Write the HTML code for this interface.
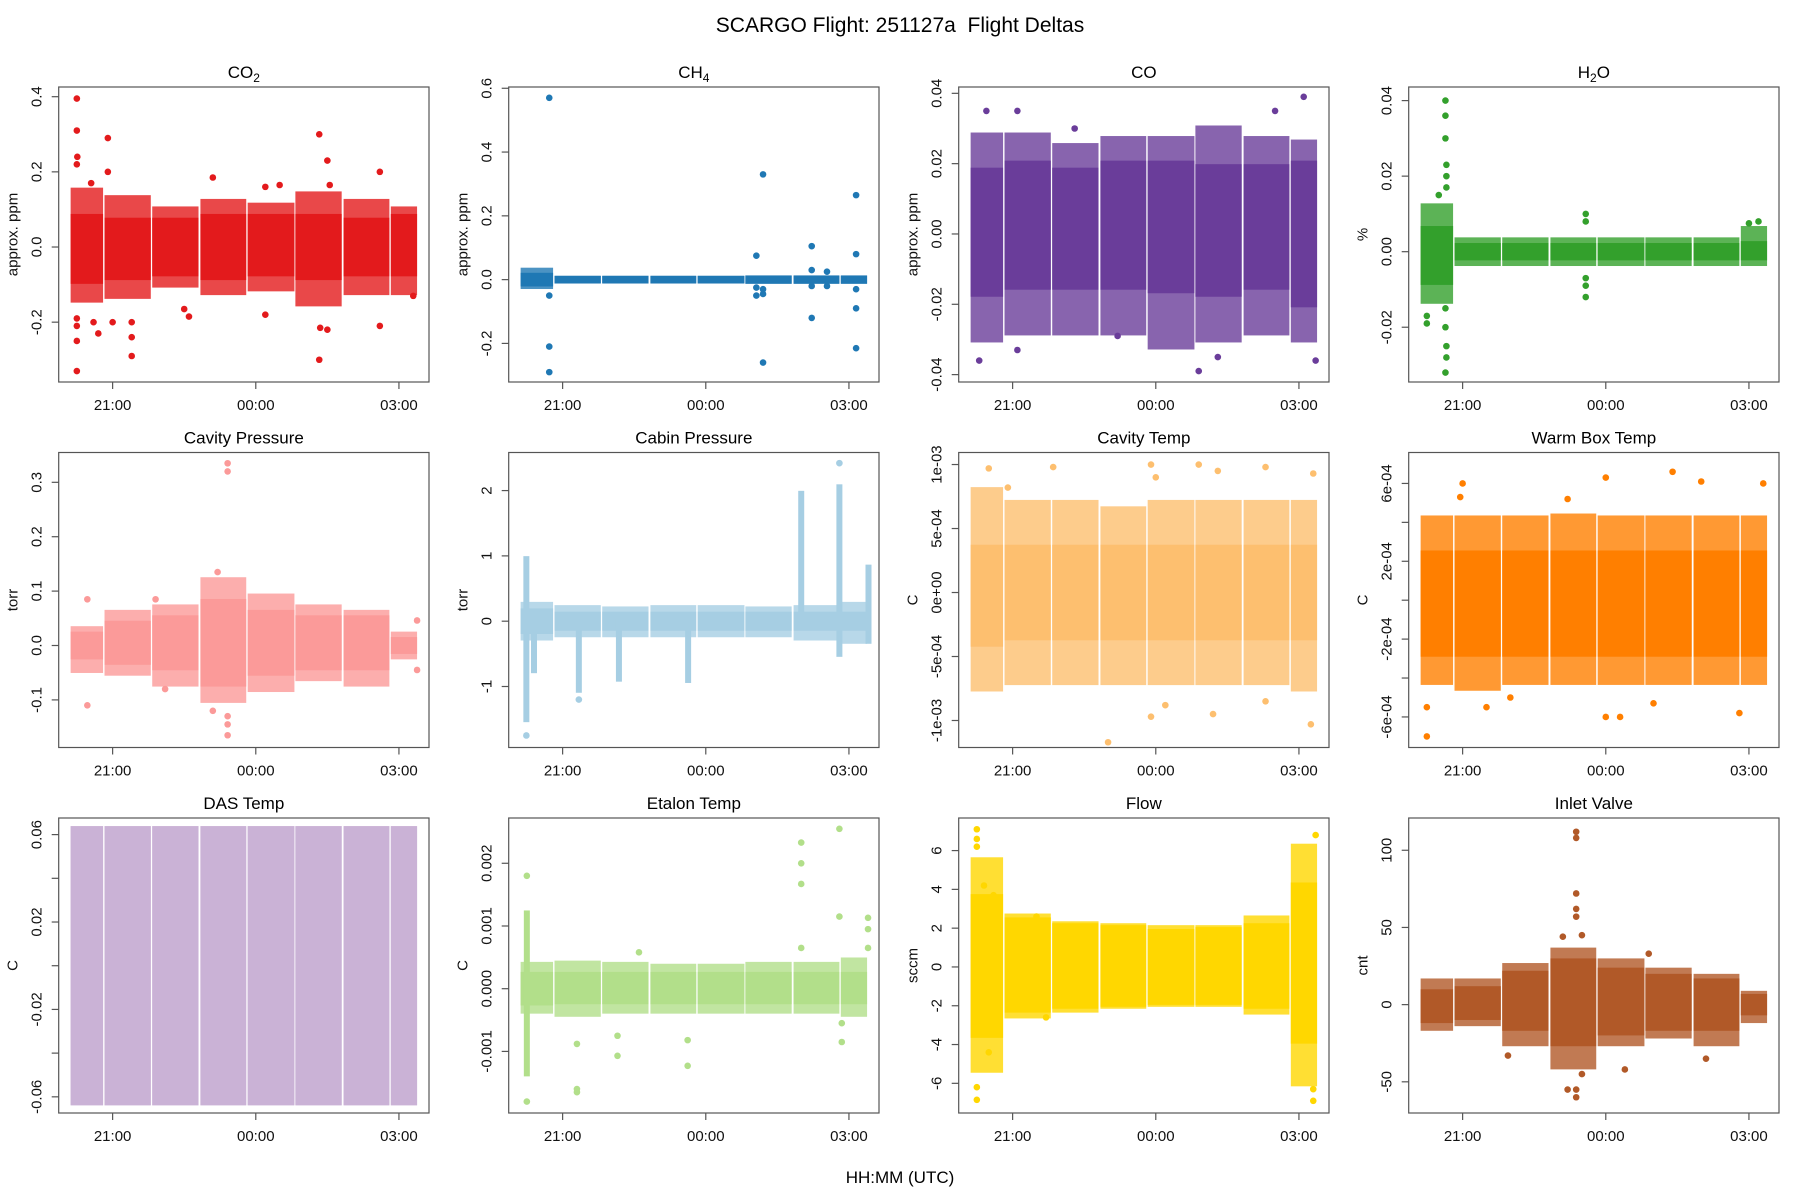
<!DOCTYPE html>
<html><head><meta charset="utf-8"><title>SCARGO Flight Deltas</title>
<style>
html,body{margin:0;padding:0;background:#fff;}
svg{display:block;font-family:"Liberation Sans",Arial,sans-serif;}
</style></head>
<body>
<svg id="chart" width="1800" height="1200" viewBox="0 0 1800 1200" xmlns="http://www.w3.org/2000/svg">
<rect width="1800" height="1200" fill="#fff"/>
<text x="900" y="32" font-size="21" text-anchor="middle" fill="#000">SCARGO Flight: 251127a&#160; Flight Deltas</text>
<text x="900" y="1183" font-size="17" text-anchor="middle" fill="#000">HH:MM (UTC)</text>
</svg>
<script>
// ---- shared time data (hours, 24+ = after midnight) ----
const segStart = [20.12, 20.83, 21.83, 22.84, 23.83, 24.83, 25.84, 26.83];
const segEnd   = [20.80, 21.80, 22.80, 23.80, 24.81, 25.80, 26.80, 27.38];
const xTickVals = [21, 24, 27];
const xTickLabels = ["21:00", "00:00", "03:00"];

// ---- CO2 ----
const co2Core  = [[-0.09,0.08],[-0.08,0.07],[-0.07,0.07],[-0.08,0.08],[-0.07,0.08],[-0.08,0.08],[-0.07,0.07],[-0.07,0.08]];
const co2Outer = [[-0.14,0.15],[-0.13,0.13],[-0.10,0.10],[-0.12,0.12],[-0.11,0.11],[-0.15,0.14],[-0.12,0.12],[-0.12,0.10]];
const co2Pts = [[20.25,0.395],[20.25,0.31],[20.26,0.24],[20.25,0.22],[20.25,-0.19],[20.25,-0.21],[20.25,-0.25],[20.25,-0.33],[20.9,0.29],[20.9,0.2],[21.0,-0.2],[21.4,-0.2],[21.4,-0.24],[21.4,-0.29],[20.55,0.17],[20.6,-0.2],[20.7,-0.23],[22.6,-0.185],[22.5,-0.165],[23.1,0.185],[24.2,0.16],[24.5,0.165],[24.2,-0.18],[25.33,0.3],[25.33,-0.3],[25.35,-0.215],[25.5,0.23],[25.5,-0.22],[25.55,0.165],[26.6,0.2],[26.6,-0.21],[27.3,-0.13]];
const co2Ticks = [0.4,0.2,0,-0.2];
const co2TickLabels = ["0.4","0.2","0.0","-0.2"];

// ---- CH4 ----
const ch4Core  = [[-0.012,0.012],[-0.002,0.002],[-0.002,0.002],[-0.002,0.002],[-0.002,0.002],[-0.003,0.003],[-0.003,0.003],[-0.003,0.003]];
const ch4Outer = [[-0.02,0.028],[-0.003,0.003],[-0.003,0.003],[-0.003,0.003],[-0.003,0.003],[-0.004,0.004],[-0.004,0.004],[-0.004,0.004]];
const ch4Pts = [[20.72,0.57],[20.72,-0.05],[20.72,-0.21],[20.72,-0.29],[25.2,0.33],[25.2,-0.26],[25.2,-0.03],[25.2,-0.045],[25.06,0.075],[25.06,-0.05],[25.06,-0.025],[26.22,0.105],[26.22,0.03],[26.22,-0.12],[26.22,-0.02],[26.54,0.025],[26.54,-0.02],[27.15,0.265],[27.15,0.08],[27.15,-0.09],[27.15,-0.215],[27.15,-0.03]];
const ch4Ticks = [0.6,0.4,0.2,0,-0.2];
const ch4TickLabels = ["0.6","0.4","0.2","0.0","-0.2"];

// ---- CO ----
const coCore  = [[-0.017,0.018],[-0.015,0.02],[-0.015,0.018],[-0.015,0.02],[-0.016,0.02],[-0.017,0.019],[-0.015,0.019],[-0.02,0.02]];
const coOuter = [[-0.03,0.028],[-0.028,0.028],[-0.028,0.025],[-0.028,0.027],[-0.032,0.027],[-0.03,0.03],[-0.028,0.027],[-0.03,0.026]];
const coPts = [[20.3,-0.036],[20.45,0.035],[21.1,0.035],[21.1,-0.033],[24.9,-0.039],[27.1,0.039],[27.35,-0.036],[26.5,0.035],[25.3,-0.035],[22.3,0.03],[23.2,-0.029]];
const coTicks = [0.04,0.02,0,-0.02,-0.04];
const coTickLabels = ["0.04","0.02","0.00","-0.02","-0.04"];

// ---- H2O ----
const h2oCore  = [[-0.008,0.006],[-0.0015,0.0015],[-0.0015,0.0015],[-0.0015,0.0015],[-0.0015,0.0015],[-0.0015,0.0015],[-0.0015,0.0015],[-0.0015,0.002]];
const h2oOuter = [[-0.013,0.012],[-0.003,0.003],[-0.003,0.003],[-0.003,0.003],[-0.003,0.003],[-0.003,0.003],[-0.003,0.003],[-0.003,0.006]];
const h2oPts = [[20.64,0.04],[20.64,0.036],[20.64,0.03],[20.66,0.023],[20.66,0.02],[20.66,0.017],[20.64,-0.015],[20.64,-0.02],[20.66,-0.025],[20.66,-0.028],[20.64,-0.032],[20.25,-0.019],[20.25,-0.017],[20.5,0.015],[23.58,0.01],[23.58,0.008],[23.58,-0.007],[23.58,-0.009],[23.58,-0.012],[27.0,0.0075],[27.2,0.008]];
const h2oTicks = [0.04,0.02,0,-0.02];
const h2oTickLabels = ["0.04","0.02","0.00","-0.02"];

// ---- Cavity Pressure ----
const cavpCore  = [[-0.02,0.02],[-0.03,0.04],[-0.04,0.05],[-0.07,0.08],[-0.05,0.06],[-0.04,0.05],[-0.04,0.05],[-0.01,0.01]];
const cavpOuter = [[-0.045,0.03],[-0.05,0.06],[-0.07,0.07],[-0.10,0.12],[-0.08,0.09],[-0.06,0.07],[-0.07,0.06],[-0.02,0.02]];
const cavpPts = [[23.41,0.335],[23.41,0.32],[23.41,-0.145],[23.41,-0.165],[23.41,-0.13],[20.47,0.085],[20.47,-0.11],[27.38,0.046],[27.38,-0.045],[23.2,0.135],[23.1,-0.12],[21.9,0.085],[22.1,-0.08]];
const cavpTicks = [0.3,0.2,0.1,0,-0.1];
const cavpTickLabels = ["0.3","0.2","0.1","0.0","-0.1"];

// ---- Cabin Pressure ----
const cabCore  = [[-0.15,0.15],[-0.1,0.1],[-0.1,0.1],[-0.1,0.1],[-0.1,0.1],[-0.1,0.1],[-0.1,0.1],[-0.1,0.1]];
const cabOuter = [[-0.25,0.25],[-0.2,0.2],[-0.2,0.18],[-0.2,0.2],[-0.2,0.2],[-0.2,0.18],[-0.25,0.2],[-0.3,0.25]];
const cabSpikes = [[20.24,-1.5,0.95],[20.4,-0.75,0],[21.34,-1.05,0],[22.18,-0.88,0],[23.63,-0.9,0],[26.0,0,1.95],[26.8,-0.5,2.05],[27.41,-0.3,0.82]];
const cabPts = [[20.24,-1.75],[21.34,-1.2],[26.8,2.42]];
const cabTicks = [2,1,0,-1];
const cabTickLabels = ["2","1","0","-1"];

// ---- Cavity Temp ----
const cavtCore  = [[-4e-4,3.5e-4],[-3.5e-4,3.5e-4],[-3.5e-4,3.5e-4],[-3.5e-4,3.5e-4],[-3.5e-4,3.5e-4],[-3.5e-4,3.5e-4],[-3.5e-4,3.5e-4],[-3.5e-4,3.5e-4]];
const cavtOuter = [[-7.5e-4,8e-4],[-7e-4,7e-4],[-7e-4,7e-4],[-7e-4,6.5e-4],[-7e-4,7e-4],[-7e-4,7e-4],[-7e-4,7e-4],[-7.5e-4,7e-4]];
const cavtPts = [[20.5,9.7e-4],[21.85,9.8e-4],[23.9,1.0e-3],[24.9,1.0e-3],[25.3,9.5e-4],[26.3,9.8e-4],[27.3,9.3e-4],[23.0,-1.17e-3],[23.9,-9.7e-4],[27.25,-1.03e-3],[25.2,-9.5e-4],[24.0,9e-4],[20.9,8.2e-4],[24.2,-8.8e-4],[26.3,-8.5e-4]];
const cavtTicks = [1e-3,5e-4,0,-5e-4,-1e-3];
const cavtTickLabels = ["1e-03","5e-04","0e+00","-5e-04","-1e-03"];

// ---- Warm Box Temp ----
const wbCore  = [[-2.75e-4,2.4e-4],[-2.75e-4,2.4e-4],[-2.75e-4,2.4e-4],[-2.75e-4,2.4e-4],[-2.75e-4,2.4e-4],[-2.75e-4,2.4e-4],[-2.75e-4,2.4e-4],[-2.75e-4,2.4e-4]];
const wbOuter = [[-4.2e-4,4.2e-4],[-4.5e-4,4.2e-4],[-4.2e-4,4.2e-4],[-4.2e-4,4.3e-4],[-4.2e-4,4.2e-4],[-4.2e-4,4.2e-4],[-4.2e-4,4.2e-4],[-4.2e-4,4.2e-4]];
const wbPts = [[20.25,-7e-4],[20.25,-5.5e-4],[21.0,6e-4],[20.95,5.3e-4],[25.4,6.6e-4],[24.0,6.3e-4],[27.3,6e-4],[26.0,6.1e-4],[24.0,-6e-4],[24.3,-6e-4],[21.5,-5.5e-4],[22.0,-5e-4],[26.8,-5.8e-4],[25.0,-5.3e-4],[23.2,5.2e-4]];
const wbTicks = [6e-4,4e-4,2e-4,0,-2e-4,-4e-4,-6e-4];
const wbTickLabels = ["6e-04","","2e-04","","-2e-04","","-6e-04"];

// ---- DAS Temp ----
const dasCore  = [[-0.0625,0.0625],[-0.0625,0.0625],[-0.0625,0.0625],[-0.0625,0.0625],[-0.0625,0.0625],[-0.0625,0.0625],[-0.0625,0.0625],[-0.0625,0.0625]];
const dasOuter = [[-0.0625,0.0625],[-0.0625,0.0625],[-0.0625,0.0625],[-0.0625,0.0625],[-0.0625,0.0625],[-0.0625,0.0625],[-0.0625,0.0625],[-0.0625,0.0625]];
const dasPts = [];
const dasTicks = [0.06,0.04,0.02,0,-0.02,-0.04,-0.06];
const dasTickLabels = ["0.06","","0.02","","-0.02","","-0.06"];

// ---- Etalon Temp ----
const etCore  = [[-2.2e-4,2.2e-4],[-2e-4,2.2e-4],[-2e-4,2.2e-4],[-2e-4,2.2e-4],[-2e-4,2.2e-4],[-2e-4,2.2e-4],[-2e-4,2.2e-4],[-2e-4,2.2e-4]];
const etOuter = [[-3.5e-4,3.8e-4],[-4e-4,4e-4],[-3.5e-4,3.8e-4],[-3.5e-4,3.5e-4],[-3.5e-4,3.5e-4],[-3.5e-4,3.8e-4],[-3.5e-4,3.8e-4],[-4e-4,4.5e-4]];
const etSpikes = [[20.25,-1.35e-3,1.2e-3]];
const etPts = [[20.25,1.8e-3],[20.25,-1.8e-3],[21.3,-8.8e-4],[21.3,-1.6e-3],[21.3,-1.65e-3],[22.15,-7.5e-4],[22.15,-1.07e-3],[22.6,5.8e-4],[23.62,-8.2e-4],[23.62,-1.23e-3],[26.0,2.33e-3],[26.0,2e-3],[26.0,1.67e-3],[26.0,6.5e-4],[26.8,2.55e-3],[26.8,1.15e-3],[26.85,-8.5e-4],[26.85,-5.5e-4],[27.4,1.13e-3],[27.4,9.5e-4],[27.4,6.5e-4]];
const etTicks = [0.002,0.001,0,-0.001];
const etTickLabels = ["0.002","0.001","0.000","-0.001"];

// ---- Flow ----
const flowCore  = [[-3.5,3.6],[-2.2,2.4],[-2.0,2.1],[-1.9,2.0],[-1.8,1.8],[-1.8,1.9],[-2.0,2.1],[-3.8,4.2]];
const flowOuter = [[-5.3,5.5],[-2.5,2.6],[-2.2,2.2],[-2.0,2.1],[-1.9,2.0],[-1.9,2.0],[-2.3,2.5],[-6.0,6.2]];
const flowPts = [[20.25,7.1],[20.25,6.6],[20.25,6.2],[20.25,-6.2],[20.25,-6.85],[27.35,6.8],[27.3,-6.9],[27.3,-6.3],[20.5,-4.4],[20.4,4.2],[20.6,3.7],[21.7,-2.6],[21.5,2.6]];
const flowTicks = [6,4,2,0,-2,-4,-6];
const flowTickLabels = ["6","4","2","0","-2","-4","-6"];

// ---- Inlet Valve ----
const inCore  = [[-10,8],[-8,10],[-15,20],[-25,28],[-18,22],[-15,18],[-15,15],[-5,5]];
const inOuter = [[-15,15],[-12,15],[-25,25],[-40,35],[-25,28],[-20,22],[-25,18],[-10,7]];
const inPts = [[23.38,112],[23.38,108],[23.38,72],[23.38,62],[23.38,57],[23.38,-60],[23.38,-55],[23.5,45],[23.5,-45],[23.2,-55],[23.1,44],[24.4,-42],[24.9,33],[26.1,-35],[21.95,-33]];
const inTicks = [100,50,0,-50];
const inTickLabels = ["100","50","0","-50"];

// ---- panel layout ----
const X0 = 19.87, X1 = 27.63;
const boxW = 370.3, boxH = 295;
const rowTops = [87, 452.5, 818];
const NS = 'http://www.w3.org/2000/svg';
const svg = document.getElementById('chart');

function mk(tag, attrs, parent) {
  const e = document.createElementNS(NS, tag);
  for (const k in attrs) e.setAttribute(k, attrs[k]);
  (parent || svg).appendChild(e);
  return e;
}

function drawPanel(o) {
  const L = 58.7 + 450 * o.col, T = rowTops[o.row];
  const g = mk('g', {});
  
  
  const xs = t => L + (t - X0) / (X1 - X0) * boxW;
  const ys = v => T + (o.ymax - v) / (o.ymax - o.ymin) * boxH;
  const pad = 3;
  const cp = mk('clipPath', {id: 'clip-' + o.key}, g);
  mk('rect', {x: L, y: T, width: boxW, height: boxH}, cp);
  const dg = mk('g', {'clip-path': 'url(#clip-' + o.key + ')'}, g);
  
  
  for (let i = 0; i < segStart.length; i++) {
    const x0 = xs(segStart[i]), x1 = xs(segEnd[i]);
    const ou = o.outer[i], co = o.core[i];
    const r1 = mk('rect', {x: x0, y: ys(ou[1]) - pad, width: x1 - x0, height: ys(ou[0]) - ys(ou[1]) + 2 * pad, fill: o.color, 'fill-opacity': 0.8}, dg);
    
    
    const r2 = mk('rect', {x: x0, y: ys(co[1]) - pad, width: x1 - x0, height: ys(co[0]) - ys(co[1]) + 2 * pad, fill: o.color}, dg);
    
    
  }
  (o.spikes || []).forEach(s => {
    const sp = mk('rect', {x: xs(s[0]) - pad, y: ys(s[2]) - pad, width: 2 * pad, height: ys(s[1]) - ys(s[2]) + 2 * pad, fill: o.color}, dg);
    
    
  });
  o.pts.forEach(p => {
    const c = mk('circle', {cx: xs(p[0]), cy: ys(p[1]), r: 3.3, fill: o.color}, dg);
    
    
  });
  const bx = mk('rect', {x: L, y: T, width: boxW, height: boxH, fill: 'none', stroke: '#555', 'stroke-width': 1.2}, g);
  
  
  xTickVals.forEach((t, i) => {
    const x = xs(t);
    mk('line', {x1: x, x2: x, y1: T + boxH, y2: T + boxH + 7, stroke: '#555', 'stroke-width': 1.2}, g);
    const tl = mk('text', {x: x, y: T + boxH + 28, 'font-size': 15, 'text-anchor': 'middle', fill: '#111'}, g);
    tl.textContent = xTickLabels[i];
    
    
  });
  o.ticks.forEach((v, i) => {
    const y = ys(v);
    mk('line', {x1: L - 7, x2: L, y1: y, y2: y, stroke: '#555', 'stroke-width': 1.2}, g);
    if (o.labels[i]) {
      const tl = mk('text', {x: 0, y: 0, 'font-size': 15, 'text-anchor': 'middle', fill: '#111', transform: 'translate(' + (L - 17) + ',' + y + ') rotate(-90)'}, g);
      tl.textContent = o.labels[i];
      
      
    }
  });
  const yt = mk('text', {x: 0, y: 0, 'font-size': 15, 'text-anchor': 'middle', fill: '#111', transform: 'translate(' + (L - 41) + ',' + (T + boxH / 2) + ') rotate(-90)'}, g);
  yt.textContent = o.ylab;
  
  
  const tt = mk('text', {x: L + boxW / 2, y: T - 9, 'font-size': 17, 'text-anchor': 'middle', fill: '#000'}, g);
  
  
  if (o.sub) {
    tt.appendChild(document.createTextNode(o.title));
    const s = mk('tspan', {dy: 4, 'font-size': 12}, tt);
    s.textContent = o.sub;
    if (o.after) {
      const a = mk('tspan', {dy: -4}, tt);
      a.textContent = o.after;
    }
  } else {
    tt.textContent = o.title;
  }
}

drawPanel({key:'co2', col:0, row:0, title:'CO', sub:'2', ylab:'approx. ppm', color:'#E31A1C', ymin:-0.3592, ymax:0.4258, core:co2Core, outer:co2Outer, pts:co2Pts, ticks:co2Ticks, labels:co2TickLabels});
drawPanel({key:'ch4', col:1, row:0, title:'CH', sub:'4', ylab:'approx. ppm', color:'#1F78B4', ymin:-0.321, ymax:0.604, core:ch4Core, outer:ch4Outer, pts:ch4Pts, ticks:ch4Ticks, labels:ch4TickLabels});
drawPanel({key:'co', col:2, row:0, title:'CO', ylab:'approx. ppm', color:'#6A3D9A', ymin:-0.0421, ymax:0.0418, core:coCore, outer:coOuter, pts:coPts, ticks:coTicks, labels:coTickLabels});
drawPanel({key:'h2o', col:3, row:0, title:'H', sub:'2', after:'O', ylab:'%', color:'#33A02C', ymin:-0.0345, ymax:0.0436, core:h2oCore, outer:h2oOuter, pts:h2oPts, ticks:h2oTicks, labels:h2oTickLabels});
drawPanel({key:'cavity-pressure', col:0, row:1, title:'Cavity Pressure', ylab:'torr', color:'#FB9A99', ymin:-0.1875, ymax:0.3548, core:cavpCore, outer:cavpOuter, pts:cavpPts, ticks:cavpTicks, labels:cavpTickLabels});
drawPanel({key:'cabin-pressure', col:1, row:1, title:'Cabin Pressure', ylab:'torr', color:'#A6CEE3', ymin:-1.934, ymax:2.583, core:cabCore, outer:cabOuter, spikes:cabSpikes, pts:cabPts, ticks:cabTicks, labels:cabTickLabels});
drawPanel({key:'cavity-temp', col:2, row:1, title:'Cavity Temp', ylab:'C', color:'#FDBF6F', ymin:-1.211e-3, ymax:1.094e-3, core:cavtCore, outer:cavtOuter, pts:cavtPts, ticks:cavtTicks, labels:cavtTickLabels});
drawPanel({key:'warm-box-temp', col:3, row:1, title:'Warm Box Temp', ylab:'C', color:'#FF7F00', ymin:-7.57e-4, ymax:7.59e-4, core:wbCore, outer:wbOuter, pts:wbPts, ticks:wbTicks, labels:wbTickLabels});
drawPanel({key:'das-temp', col:0, row:2, title:'DAS Temp', ylab:'C', color:'#CAB2D6', ymin:-0.0674, ymax:0.0676, core:dasCore, outer:dasOuter, pts:dasPts, ticks:dasTicks, labels:dasTickLabels});
drawPanel({key:'etalon-temp', col:1, row:2, title:'Etalon Temp', ylab:'C', color:'#B2DF8A', ymin:-1.982e-3, ymax:2.722e-3, core:etCore, outer:etOuter, spikes:etSpikes, pts:etPts, ticks:etTicks, labels:etTickLabels});
drawPanel({key:'flow', col:2, row:2, title:'Flow', ylab:'sccm', color:'#FFD700', ymin:-7.53, ymax:7.68, core:flowCore, outer:flowOuter, pts:flowPts, ticks:flowTicks, labels:flowTickLabels});
drawPanel({key:'inlet-valve', col:3, row:2, title:'Inlet Valve', ylab:'cnt', color:'#B15928', ymin:-70.2, ymax:120.9, core:inCore, outer:inOuter, pts:inPts, ticks:inTicks, labels:inTickLabels});
</script>
</body></html>
